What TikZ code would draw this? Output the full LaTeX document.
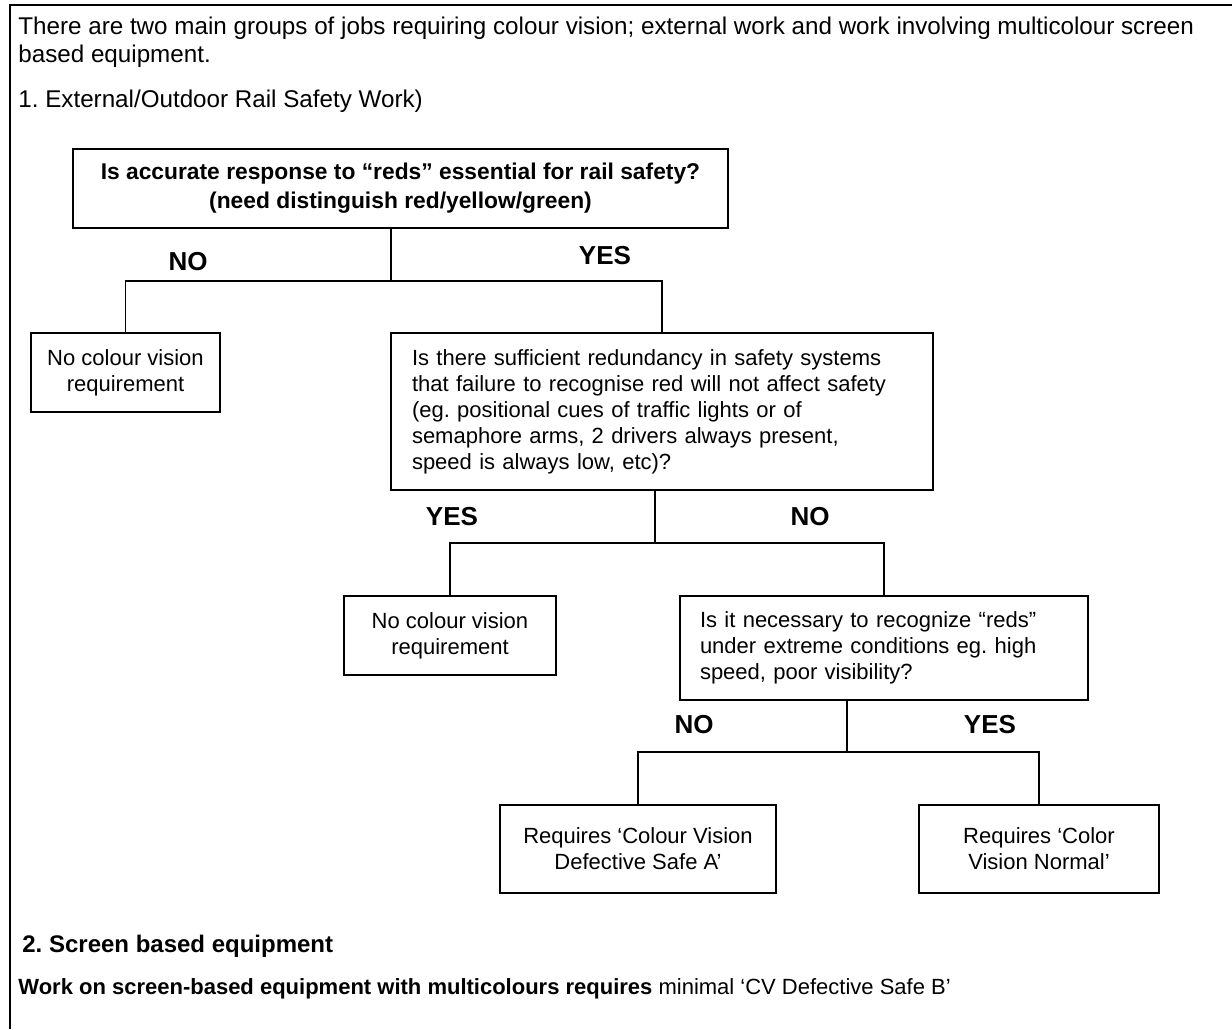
\documentclass[tikz,border=0pt]{standalone}
\usepackage{fontspec}
\setmainfont{Liberation Sans}
\usetikzlibrary{positioning}

\begin{document}
\frenchspacing
\begin{tikzpicture}[x=0.5pt,y=-0.5pt,
		every node/.style={font=\fontsize{11}{13}\selectfont},
		qbox/.style={draw,line width=0.9pt,inner sep=0pt},
		lbl/.style={font=\fontsize{13}{15}\selectfont\bfseries},
		link/.style={line width=0.9pt}]
	\useasboundingbox (0,0) rectangle (1232,1029);
	\draw[line width=1.3pt] (1232,5) -- (10,5) -- (10,1029);

	% intro text
	\node[anchor=west,align=left,inner sep=0pt,font=\fontsize{12.1}{14}\selectfont] (intro) at (18,42) {There are two main groups of jobs requiring colour vision; external work and work involving multicolour screen\\based equipment.};
	\node[anchor=west,inner sep=0pt,font=\fontsize{12.1}{14}\selectfont] (part1) at (18,101) {1. External/Outdoor Rail Safety Work)};

	% decision tree
	\node[qbox,minimum width=327.5pt,minimum height=39.5pt,align=center,font=\fontsize{11.4}{14.5}\selectfont\bfseries] (q1) at (400.5,188.5) {Is accurate response to ``reds'' essential for rail safety?\\(need distinguish red/yellow/green)};
	\node[qbox,minimum width=94.5pt,minimum height=39.5pt,align=center] (nocv1) at (125.5,372.5) {No colour vision\\requirement};
	\node[qbox,minimum width=271pt,minimum height=78.5pt,text width=250pt,inner xsep=10.5pt,align=left] (q2) at (662,411.5) {Is there sufficient redundancy in safety systems\\that failure to recognise red will not affect safety\\(eg. positional cues of traffic lights or of\\semaphore arms, 2 drivers always present,\\speed is always low, etc)?};
	\node[qbox,minimum width=106pt,minimum height=39.5pt,align=center] (nocv2) at (450,635.5) {No colour vision\\requirement};
	\node[qbox,minimum width=204pt,minimum height=52pt,text width=184pt,inner xsep=10pt,align=left] (q3) at (884,648) {Is it necessary to recognize ``reds''\\under extreme conditions eg. high\\speed, poor visibility?};
	\node[qbox,minimum width=138pt,minimum height=44pt,align=center] (cvda) at (638,849) {Requires `Colour Vision\\Defective Safe A'};
	\node[qbox,minimum width=120pt,minimum height=44pt,align=center] (cvn) at (1039,849) {Requires `Color\\Vision Normal'};

	\node[lbl] (no1) at (188,262) {NO};
	\node[lbl] (yes1) at (605,256) {YES};
	\node[lbl] (yes2) at (452,517) {YES};
	\node[lbl] (no2) at (810,517) {NO};
	\node[lbl] (no3) at (694,725) {NO};
	\node[lbl] (yes3) at (990,725) {YES};

	\coordinate (j1) at (391,281);
	\coordinate (j2) at (655,543);
	\coordinate (j3) at (847,752);
	\draw[link] (j1 |- q1.south) -- (j1);
	\draw[link] (nocv1.north) |- (j1) -| (q2.north);
	\draw[link] (j2 |- q2.south) -- (j2);
	\draw[link] (nocv2.north) |- (j2) -| (q3.north);
	\draw[link] (j3 |- q3.south) -- (j3);
	\draw[link] (cvda.north) |- (j3) -| (cvn.north);

	% part 2
	\node[anchor=west,inner sep=0pt,font=\fontsize{12}{14}\selectfont\bfseries] (part2) at (22,946) {2. Screen based equipment};
	\node[anchor=west,inner sep=0pt] (work) at (18,989) {\textbf{Work on screen-based equipment with multicolours requires} minimal `CV Defective Safe B'};
\end{tikzpicture}
\end{document}
